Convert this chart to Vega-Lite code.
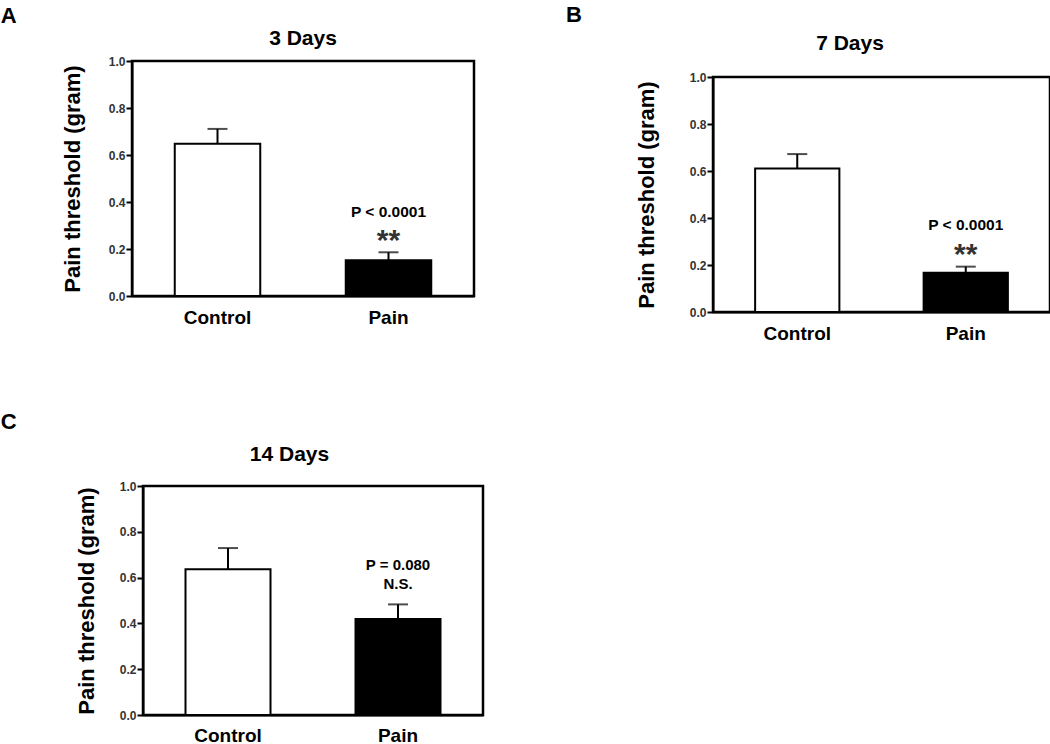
{
  "$schema": "https://vega.github.io/schema/vega-lite/v6.json",
  "background": "white",
  "padding": {"left": 0, "top": 4, "right": 0, "bottom": 0},
  "datasets": {
    "d3": [
      {"group": "Control", "mean": 0.648, "upper": 0.711, "p": "", "sig": ""},
      {"group": "Pain", "mean": 0.152, "upper": 0.186, "p": "P < 0.0001", "sig": "**"}
    ],
    "d7": [
      {"group": "Control", "mean": 0.611, "upper": 0.672, "p": "", "sig": ""},
      {"group": "Pain", "mean": 0.167, "upper": 0.193, "p": "P < 0.0001", "sig": "**"}
    ],
    "d14": [
      {"group": "Control", "mean": 0.636, "upper": 0.729, "p": "", "sig": ""},
      {"group": "Pain", "mean": 0.419, "upper": 0.483, "p": "P = 0.080", "sig": "N.S."}
    ],
    "hA": [{"panel": "A", "title": "3 Days"}],
    "hB": [{"panel": "B", "title": "7 Days"}],
    "hC": [{"panel": "C", "title": "14 Days"}]
  },
  "config": {
    "font": "Liberation Sans",
    "view": {"stroke": "black", "strokeWidth": 2.5},
    "axis": {
      "grid": false,
      "domainColor": "black",
      "domainWidth": 2,
      "tickColor": "black",
      "tickWidth": 2,
      "labelFont": "Liberation Sans",
      "titleFont": "Liberation Sans",
      "labelFontWeight": "bold",
      "titleFontWeight": "bold"
    },
    "axisX": {"ticks": false, "tickSize": 0, "labelFontSize": 19, "labelColor": "black", "labelPadding": 12.5, "labelAngle": 0},
    "axisY": {"tickSize": 6, "labelPadding": 1, "labelFontSize": 12, "labelColor": "#333333", "titleFontSize": 22, "titleColor": "black", "values": [0, 0.2, 0.4, 0.6, 0.8, 1.0], "format": ".1f"},
    "text": {"font": "Liberation Sans", "fontWeight": "bold", "color": "black"}
  },
  "spacing": 66,
  "vconcat": [
    {
      "spacing": 90,
      "hconcat": [
        {
          "spacing": 0,
          "hconcat": [
            {
              "width": 1, "height": 1,
              "view": {"stroke": null},
              "data": {"name": "hA"},
              "mark": {"type": "text", "fontSize": 22, "align": "left", "baseline": "alphabetic", "dx": -58.8, "dy": -39},
              "encoding": {"text": {"field": "panel"}}
            },
            {
              "width": 342, "height": 235,
              "layer": [
                {
                  "data": {"name": "d3"},
                  "encoding": {"x": {"field": "group", "type": "nominal", "sort": ["Control", "Pain"], "scale": {"paddingInner": 0.5, "paddingOuter": 0.25}, "axis": {"title": null}}},
                  "layer": [
                    {"mark": {"type": "bar", "stroke": "black", "strokeWidth": 2}, "encoding": {"y": {"field": "mean", "type": "quantitative", "scale": {"domain": [0, 1]}, "axis": {"title": "Pain threshold (gram)", "titlePadding": 24}}, "fill": {"field": "group", "type": "nominal", "scale": {"domain": ["Control", "Pain"], "range": ["white", "black"]}, "legend": null}}},
                    {"mark": {"type": "rule", "strokeWidth": 2, "color": "black"}, "encoding": {"y": {"field": "mean", "type": "quantitative", "title": "Pain threshold (gram)"}, "y2": {"field": "upper"}}},
                    {"mark": {"type": "tick", "orient": "horizontal", "size": 20, "thickness": 2, "color": "black"}, "encoding": {"y": {"field": "upper", "type": "quantitative", "title": "Pain threshold (gram)"}}},
                    {"mark": {"type": "text", "fontSize": 15.5, "baseline": "alphabetic", "dy": -35}, "encoding": {"y": {"field": "upper", "type": "quantitative", "title": "Pain threshold (gram)"}, "text": {"field": "p"}}},
                    {"mark": {"type": "text", "fontSize": 30, "baseline": "alphabetic", "dy": -2, "color": "#333333"}, "encoding": {"y": {"field": "upper", "type": "quantitative", "title": "Pain threshold (gram)"}, "text": {"field": "sig"}}}
                  ]
                },
                {
                  "data": {"name": "hA"},
                  "mark": {"type": "text", "fontSize": 21, "align": "center", "baseline": "alphabetic", "dx": 0, "dy": -133.5},
                  "encoding": {"text": {"field": "title"}}
                }
              ]
            }
          ]
        },
        {
          "spacing": 0,
          "vconcat": [
            {
              "width": 1, "height": 8,
              "view": {"stroke": null},
              "data": {"name": "hB"},
              "layer": [
                {"mark": {"type": "text", "fontSize": 22, "align": "left", "baseline": "alphabetic", "dx": -147.5, "dy": -43}, "encoding": {"text": {"field": "panel"}}},
                {"mark": {"type": "text", "fontSize": 21, "align": "center", "baseline": "alphabetic", "dx": 136.5, "dy": -15}, "encoding": {"text": {"field": "title"}}}
              ]
            },
            {
              "width": 337, "height": 235,
              "data": {"name": "d7"},
              "encoding": {"x": {"field": "group", "type": "nominal", "sort": ["Control", "Pain"], "scale": {"paddingInner": 0.5, "paddingOuter": 0.25}, "axis": {"title": null}}},
              "layer": [
                {"mark": {"type": "bar", "stroke": "black", "strokeWidth": 2}, "encoding": {"y": {"field": "mean", "type": "quantitative", "scale": {"domain": [0, 1]}, "axis": {"title": "Pain threshold (gram)", "titlePadding": 31}}, "fill": {"field": "group", "type": "nominal", "scale": {"domain": ["Control", "Pain"], "range": ["white", "black"]}, "legend": null}}},
                {"mark": {"type": "rule", "strokeWidth": 2, "color": "black"}, "encoding": {"y": {"field": "mean", "type": "quantitative", "title": "Pain threshold (gram)"}, "y2": {"field": "upper"}}},
                {"mark": {"type": "tick", "orient": "horizontal", "size": 20, "thickness": 2, "color": "black"}, "encoding": {"y": {"field": "upper", "type": "quantitative", "title": "Pain threshold (gram)"}}},
                {"mark": {"type": "text", "fontSize": 15.5, "baseline": "alphabetic", "dy": -36.5}, "encoding": {"y": {"field": "upper", "type": "quantitative", "title": "Pain threshold (gram)"}, "text": {"field": "p"}}},
                {"mark": {"type": "text", "fontSize": 30, "baseline": "alphabetic", "dy": -3, "color": "#333333"}, "encoding": {"y": {"field": "upper", "type": "quantitative", "title": "Pain threshold (gram)"}, "text": {"field": "sig"}}}
              ]
            }
          ]
        }
      ]
    },
    {
      "spacing": 0,
      "hconcat": [
        {
          "width": 15, "height": 1,
          "view": {"stroke": null},
          "data": {"name": "hC"},
          "mark": {"type": "text", "fontSize": 22, "align": "left", "baseline": "alphabetic", "dx": -65.8, "dy": -57.5},
          "encoding": {"text": {"field": "panel"}}
        },
        {
          "width": 340, "height": 229,
          "layer": [
            {
              "data": {"name": "d14"},
              "encoding": {"x": {"field": "group", "type": "nominal", "sort": ["Control", "Pain"], "scale": {"paddingInner": 0.5, "paddingOuter": 0.25}, "axis": {"title": null, "labelPadding": 11.5}}},
              "layer": [
                {"mark": {"type": "bar", "stroke": "black", "strokeWidth": 2}, "encoding": {"y": {"field": "mean", "type": "quantitative", "scale": {"domain": [0, 1]}, "axis": {"title": "Pain threshold (gram)", "titlePadding": 21}}, "fill": {"field": "group", "type": "nominal", "scale": {"domain": ["Control", "Pain"], "range": ["white", "black"]}, "legend": null}}},
                {"mark": {"type": "rule", "strokeWidth": 2, "color": "black"}, "encoding": {"y": {"field": "mean", "type": "quantitative", "title": "Pain threshold (gram)"}, "y2": {"field": "upper"}}},
                {"mark": {"type": "tick", "orient": "horizontal", "size": 20, "thickness": 2, "color": "black"}, "encoding": {"y": {"field": "upper", "type": "quantitative", "title": "Pain threshold (gram)"}}},
                {"mark": {"type": "text", "fontSize": 15, "baseline": "alphabetic", "dy": -34.4}, "encoding": {"y": {"field": "upper", "type": "quantitative", "title": "Pain threshold (gram)"}, "text": {"field": "p"}}},
                {"mark": {"type": "text", "fontSize": 15, "baseline": "alphabetic", "dy": -15.4}, "encoding": {"y": {"field": "upper", "type": "quantitative", "title": "Pain threshold (gram)"}, "text": {"field": "sig"}}}
              ]
            },
            {
              "data": {"name": "hC"},
              "mark": {"type": "text", "fontSize": 21, "align": "center", "baseline": "alphabetic", "dx": -23.5, "dy": -139.5},
              "encoding": {"text": {"field": "title"}}
            }
          ]
        }
      ]
    }
  ]
}
